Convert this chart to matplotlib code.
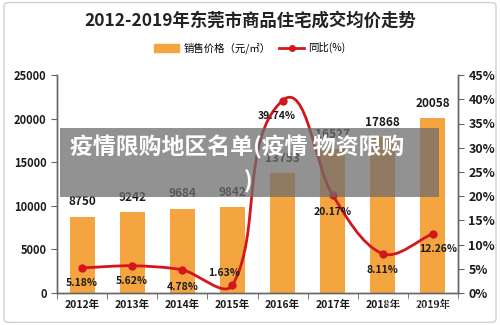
import numpy as np
import matplotlib.pyplot as plt
from matplotlib.path import Path
from matplotlib.patches import PathPatch, Patch, FancyBboxPatch, Rectangle
from matplotlib.lines import Line2D
from matplotlib.ticker import FuncFormatter

plt.rcParams['font.family'] = ['Noto Sans CJK SC', 'DejaVu Sans']

years = ['2012年', '2013年', '2014年', '2015年', '2016年', '2017年', '2018年', '2019年']
price = [8750, 9242, 9684, 9842, 13753, 16527, 17868, 20058]
yoy = [5.18, 5.62, 4.78, 1.63, 39.74, 20.17, 8.11, 12.26]
# label offsets (points) for the percentage labels
pct_off = [(0, -11), (0, -11), (0, -12), (-6, 9), (-4, -11), (0, -12), (0, -12), (4, -11)]

bar_color = '#F5A540'
line_color = '#D3161B'
text_color = '#1a1a1a'

fig = plt.figure(figsize=(5, 3.25), dpi=100)
fig.patches.append(FancyBboxPatch((0.008, 0.008), 0.984, 0.984, boxstyle='round,pad=0,rounding_size=0.01',
                                  transform=fig.transFigure, fill=False, edgecolor='#d0d0d0', lw=1))

ax = fig.add_axes([0.114, 0.0985, 0.802, 0.6705])
ax2 = ax.twinx()

x = np.arange(len(years))
ax.bar(x, price, width=0.5, color=bar_color, zorder=2)
for xi, v in zip(x, price):
    ax.annotate(str(v), (xi, v), xytext=(0, 6), textcoords='offset points', ha='center', va='bottom',
                fontsize=8.5, fontweight='bold', color=text_color)

ax.set_xlim(-0.5, 7.5)
ax.set_ylim(0, 25000)
ax.set_yticks(range(0, 25001, 5000))
ax.set_xticks(x)
ax.set_xticklabels(years)
ax.set_xticks(np.arange(-0.5, 8, 1), minor=True)
ax.tick_params(axis='x', which='major', length=0, pad=5, labelsize=7.5)
ax.tick_params(axis='x', which='minor', length=4, direction='out', color='#666666')
ax.tick_params(axis='y', length=4, direction='out', color='#666666', labelsize=8)
for lab in ax.get_xticklabels() + ax.get_yticklabels():
    lab.set_fontweight('bold')
    lab.set_color(text_color)

ax2.set_ylim(0, 45)
ax2.set_yticks(range(0, 46, 5))
ax2.yaxis.set_major_formatter(FuncFormatter(lambda v, p: '%d%%' % v))
ax2.tick_params(axis='y', length=4, direction='out', color='#666666', labelsize=9)
for lab in ax2.get_yticklabels():
    lab.set_fontweight('bold')
    lab.set_color(text_color)

for a in (ax, ax2):
    a.spines['top'].set_visible(False)
    for s in ('left', 'right', 'bottom'):
        a.spines[s].set_color('#666666')
        a.spines[s].set_linewidth(1)

# smoothed line (Excel style bezier), computed in pixel space
pts = ax2.transData.transform(np.column_stack([x, yoy]))
n = len(pts)
verts = [pts[0]]
codes = [Path.MOVETO]
k = 0.3
tang = []
for i in range(n):
    a_ = pts[max(i - 1, 0)]
    b_ = pts[min(i + 1, n - 1)]
    d = b_ - a_
    tang.append(d / np.hypot(*d))
for i in range(n - 1):
    seg = np.hypot(*(pts[i + 1] - pts[i]))
    c1 = pts[i] + tang[i] * seg * k
    c2 = pts[i + 1] - tang[i + 1] * seg * k
    verts += [c1, c2, pts[i + 1]]
    codes += [Path.CURVE4] * 3
verts = ax2.transData.inverted().transform(np.array(verts))
ax2.add_patch(PathPatch(Path(verts, codes), fill=False, edgecolor=line_color, lw=2, zorder=3))
ax2.plot(x, yoy, 'o', color=line_color, ms=5, zorder=4)
for xi, v, off in zip(x, yoy, pct_off):
    ax2.annotate('%.2f%%' % v, (xi, v), xytext=off, textcoords='offset points', ha='center', va='center',
                 fontsize=7.5, fontweight='bold', color=text_color)

fig.text(0.5, 0.935, '2012-2019年东莞市商品住宅成交均价走势', ha='center', va='center',
         fontsize=12.5, fontweight='bold', color='#222222')
handles = [Patch(color=bar_color), Line2D([], [], color=line_color, lw=2, marker='o', ms=4)]
fig.legend(handles, ['销售价格（元/㎡）', '同比(%)'], loc='center', bbox_to_anchor=(0.5, 0.852), ncol=2,
           frameon=False, fontsize=7.5, handlelength=2.4, handleheight=0.8, columnspacing=0.8,
           handletextpad=0.4)

# overlay band
fig.patches.append(Rectangle((0.12, 1 - 197 / 325), 0.758, 69 / 325, transform=fig.transFigure,
                             facecolor='#6e6e6e', alpha=0.75, edgecolor='none', zorder=10))
fig.text(0.14, 1 - 147 / 325, '疫情限购地区名单(疫情 物资限购', ha='left', va='center', fontsize=16.5,
         fontweight='bold', color='white', zorder=11)
fig.text(0.496, 1 - 182 / 325, ')', ha='center', va='center', fontsize=16.5,
         fontweight='bold', color='white', zorder=11)
fig.text(0.87, 1 - 305 / 325, '知乎 @小陈说房', ha='center', va='center', fontsize=10,
         color='white', alpha=0.6, zorder=11)

fig.savefig('out.png', dpi=100)
